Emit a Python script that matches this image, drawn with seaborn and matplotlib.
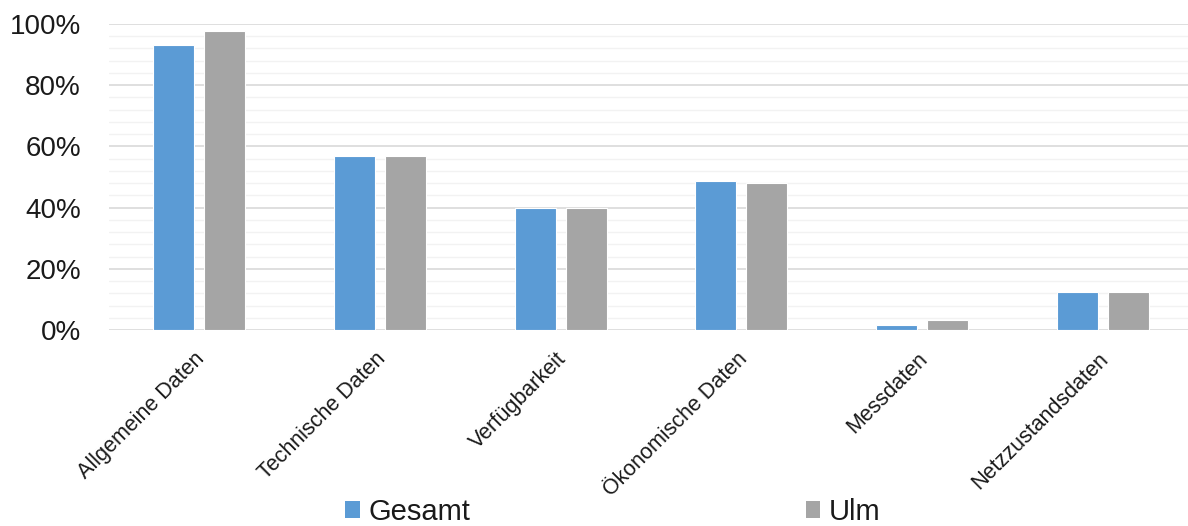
import matplotlib
matplotlib.use("Agg")
import matplotlib.pyplot as plt
import matplotlib.transforms as mtransforms
from matplotlib.ticker import FuncFormatter, MultipleLocator
from matplotlib.patches import Patch
import seaborn as sns
import pandas as pd

categories = ["Allgemeine Daten", "Technische Daten", "Verfügbarkeit",
              "Ökonomische Daten", "Messdaten", "Netzzustandsdaten"]
gesamt = [0.930, 0.570, 0.399, 0.487, 0.017, 0.125]
ulm = [0.976, 0.570, 0.399, 0.479, 0.034, 0.125]
series_names = ["Gesamt", "Ulm"]
colors = ["#5B9BD5", "#A5A5A5"]

df = pd.DataFrame({
    "Kategorie": categories * 2,
    "Wert": gesamt + ulm,
    "Serie": [series_names[0]] * len(categories) + [series_names[1]] * len(categories),
})

sns.set_theme(style="white")
plt.rcParams["font.family"] = ["Liberation Sans", "DejaVu Sans"]

fig = plt.figure(figsize=(11.88, 5.26), dpi=100)
ax_left, ax_right = 108.6, 1193.4
ax = fig.add_axes([ax_left / 1188, 1 - 330 / 526, (ax_right - ax_left) / 1188, (330 - 24) / 526])

sns.barplot(data=df, x="Kategorie", y="Wert", hue="Serie", order=categories,
            hue_order=series_names, palette=colors, width=0.564, gap=0.195,
            edgecolor="white", linewidth=0.8, saturation=1, ax=ax, legend=False,
            errorbar=None)

ax.set_ylim(0, 1.0)
ax.set_xlim(-0.5, len(categories) - 0.5)
ax.yaxis.set_major_locator(MultipleLocator(0.2))
ax.yaxis.set_minor_locator(MultipleLocator(0.04))
ax.yaxis.set_major_formatter(FuncFormatter(lambda v, p: f"{v * 100:.0f}%"))
ax.grid(axis="y", which="major", color="#D9D9D9", linewidth=1.2)
ax.grid(axis="y", which="minor", color="#F2F2F2", linewidth=1.0)
ax.set_axisbelow(True)
for s in ax.spines.values():
    s.set_visible(False)
ax.set_xlabel("")
ax.set_ylabel("")
ax.tick_params(axis="y", which="both", length=0, pad=20, labelsize=20, labelcolor="#1a1a1a")
ax.tick_params(axis="x", length=0, pad=11, labelsize=15.5, labelcolor="#1a1a1a")
offset = mtransforms.ScaledTranslation(-5 / 100, -3 / 100, fig.dpi_scale_trans)
for lbl in ax.get_xticklabels():
    lbl.set_rotation(45)
    lbl.set_ha("right")
    lbl.set_rotation_mode("anchor")
    lbl.set_transform(lbl.get_transform() + offset)

handles = [Patch(facecolor=c, edgecolor="none") for c in colors]
fig.legend(handles, series_names, loc="center", bbox_to_anchor=(613 / 1188, 1 - 512 / 526),
           ncol=2, frameon=False, fontsize=21, handlelength=0.5, handleheight=0.5,
           handletextpad=0.3, columnspacing=11.5, labelcolor="#1a1a1a")

fig.savefig("out.png", dpi=100)
